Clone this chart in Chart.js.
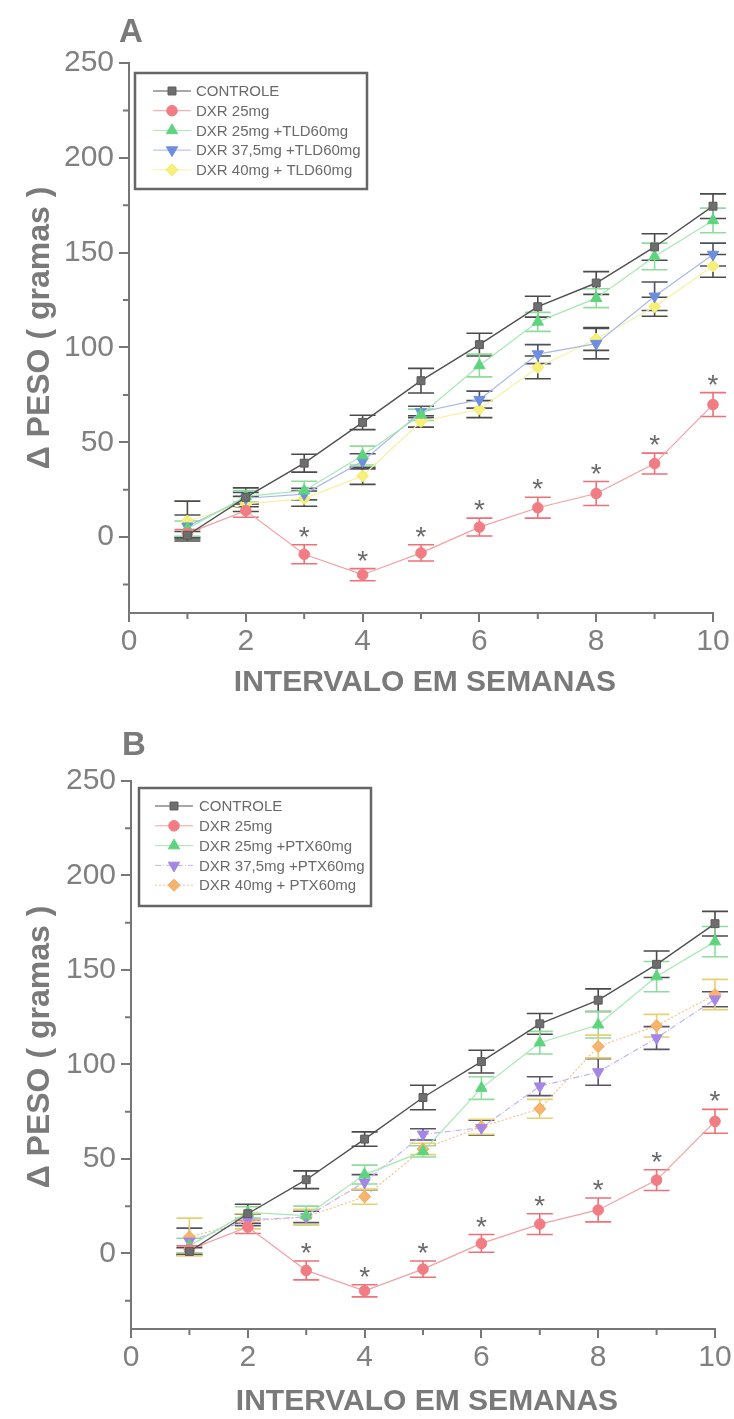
<!DOCTYPE html>
<html><head><meta charset="utf-8">
<script src="https://cdn.jsdelivr.net/npm/chart.js@4.4.1/dist/chart.umd.min.js"></script>
<style>
html,body{margin:0;padding:0;background:#fff;}
#wrap{position:relative;width:734px;height:1419px;overflow:hidden;background:#fff;}
.pane{position:absolute;left:0;width:734px;}
</style></head><body>
<div id="wrap">
<div class="pane" style="top:0;height:710px"><canvas id="cA" width="734" height="710"></canvas></div>
<div class="pane" style="top:710px;height:709px"><canvas id="cB" width="734" height="709"></canvas></div>
</div>
<script>
// ---------- DATA ----------
const weeks = [1, 2, 3, 4, 5, 6, 7, 8, 9, 10];
const xTickValues = [0, 1, 2, 3, 4, 5, 6, 7, 8, 9, 10];
const yTickValues = [-25, 0, 25, 50, 75, 100, 125, 150, 175, 200, 225, 250];

const controle    = [1, 21, 39, 60.5, 82.5, 101.5, 121.5, 134, 153, 174.5];
const controleErr = [2, 5, 4.7, 3.8, 6.5, 6, 5.5, 6, 7, 6.5];
const dxr25       = [2, 14, -9, -19.8, -8.3, 5.3, 15.5, 23, 38.8, 69.9];
const dxr25Err    = [2, 3.5, 5, 3.2, 4.3, 4.7, 5.5, 6.3, 5.5, 6.3];

// Panel A (TLD)
const tld25    = [4.5, 21.5, 24.5, 43, 64.5, 90.5, 113.5, 126, 148, 167];
const tld25Err = [4, 3, 5, 5, 3, 6, 5, 5, 7, 6.5];
const tld37    = [5.7, 20.5, 22.7, 40, 66, 72.5, 96.5, 102, 127, 149];
const tld37Err = [6, 3, 3, 4, 3, 4.5, 5, 8, 7.5, 6];
const tld40    = [8.5, 17.5, 20.3, 32.3, 61, 67.5, 89.5, 104.5, 121.5, 143];
const tld40Err = [10.5, 4, 4, 4.5, 3, 4.5, 6, 6, 5, 6];

// Panel B (PTX)
const ptx25    = [4, 21.7, 20, 41.7, 54, 87.5, 111.5, 121, 146.5, 165];
const ptx25Err = [4, 3, 5, 5, 3, 6, 6, 7, 8, 8];
const ptx37    = [6.4, 17.7, 19.3, 37.7, 63, 66.5, 88.5, 96, 114, 134.5];
const ptx37Err = [7, 3, 3, 4, 3, 4, 5, 7, 6, 4];
const ptx40    = [8.7, 17, 19.3, 30, 55.3, 67, 76.5, 109.5, 120.5, 137];
const ptx40Err = [10, 4, 4, 4, 3, 4, 5, 6, 6, 8];

const signifWeeks = [3, 4, 5, 6, 7, 8, 9, 10];

const labelsA = ['CONTROLE', 'DXR 25mg', 'DXR 25mg +TLD60mg', 'DXR 37,5mg +TLD60mg', 'DXR 40mg + TLD60mg'];
const labelsB = ['CONTROLE', 'DXR 25mg', 'DXR 25mg +PTX60mg', 'DXR 37,5mg +PTX60mg', 'DXR 40mg + PTX60mg'];
const xTitle = 'INTERVALO EM SEMANAS';
const yTitle = '\u0394 PESO ( gramas )';

// ---------- HELPERS ----------
const FONT = "'Liberation Sans', Arial, sans-serif";
const pts = arr => weeks.map((w, i) => ({ x: w, y: arr[i] }));

function series(label, vals, err, o) {
  return Object.assign({
    label, data: pts(vals), err,
    showLine: true, fill: false, tension: 0, clip: false,
    borderWidth: 1.2, pointBorderWidth: 1,
  }, o);
}

const errPlugin = {
  id: 'errbars',
  beforeDatasetsDraw(chart) {
    const { ctx, scales: { x, y } } = chart;
    chart.data.datasets.forEach(ds => {
      if (!ds.err) return;
      ctx.save();
      ctx.strokeStyle = ds.errColor;
      ctx.lineWidth = 1.6;
      ds.data.forEach((p, j) => {
        const e = ds.err[j];
        const px = x.getPixelForValue(p.x);
        const t = y.getPixelForValue(p.y + e), b = y.getPixelForValue(p.y - e);
        ctx.beginPath();
        ctx.moveTo(px, t); ctx.lineTo(px, b);
        ctx.moveTo(px - 13, t); ctx.lineTo(px + 13, t);
        ctx.moveTo(px - 13, b); ctx.lineTo(px + 13, b);
        ctx.stroke();
      });
      ctx.restore();
    });
  },
  afterDatasetsDraw(chart) {
    const { ctx, scales: { x, y } } = chart;
    const ds = chart.data.datasets[1];
    ctx.save();
    ctx.fillStyle = '#6a6a6a';
    ctx.font = '28px ' + FONT;
    ctx.textAlign = 'center';
    ctx.textBaseline = 'alphabetic';
    signifWeeks.forEach(w => {
      const j = weeks.indexOf(w);
      const top = y.getPixelForValue(ds.data[j].y + ds.err[j]);
      ctx.fillText('*', x.getPixelForValue(w), top + 1);
    });
    ctx.restore();
  }
};

const decoPlugin = {
  id: 'deco',
  afterDraw(chart) {
    const o = chart.options.plugins.deco;
    const { ctx, chartArea: ca, scales: { x, y } } = chart;
    ctx.save();
    // minor ticks
    ctx.strokeStyle = '#777'; ctx.lineWidth = 2;
    ctx.beginPath();
    xTickValues.forEach(v => { if (v % 2 !== 0) { const px = x.getPixelForValue(v); ctx.moveTo(px, ca.bottom); ctx.lineTo(px, ca.bottom + 6); } });
    yTickValues.forEach(v => { if (v % 50 !== 0) { const py = y.getPixelForValue(v); ctx.moveTo(ca.left, py); ctx.lineTo(ca.left - 6, py); } });
    ctx.stroke();

    // panel letter
    ctx.fillStyle = '#7a7a7a';
    ctx.font = 'bold 33px ' + FONT;
    ctx.textAlign = 'left'; ctx.textBaseline = 'alphabetic';
    ctx.fillText(o.letter, o.letterX, o.letterY);

    // axis titles
    ctx.font = 'bold 30px ' + FONT;
    ctx.fillStyle = '#7a7a7a';
    ctx.textAlign = 'center'; ctx.textBaseline = 'middle';
    ctx.fillText(xTitle, o.xTitleX, o.xTitleY);
    ctx.save();
    ctx.font = 'bold 32px ' + FONT;
    ctx.translate(o.yTitleX, o.yTitleY);
    ctx.rotate(-Math.PI / 2);
    ctx.fillText(yTitle, 0, 0);
    ctx.restore();

    // legend box
    const L = o.legend;
    ctx.strokeStyle = '#666'; ctx.lineWidth = 2.5;
    ctx.strokeRect(L.x, L.y, L.w, L.h);
    ctx.font = '15px ' + FONT;
    ctx.textAlign = 'left'; ctx.textBaseline = 'middle';
    chart.data.datasets.forEach((ds, i) => {
      const cy = L.y + L.row0 + i * L.rowH;
      ctx.save();
      ctx.strokeStyle = ds.borderColor; ctx.lineWidth = 1;
      ctx.setLineDash(ds.borderDash || []);
      ctx.beginPath(); ctx.moveTo(L.symX - 19, cy); ctx.lineTo(L.symX + 19, cy); ctx.stroke();
      ctx.restore();
      ctx.save();
      ctx.fillStyle = ds.pointBackgroundColor;
      ctx.strokeStyle = ds.pointBorderColor;
      ctx.lineWidth = 1;
      Chart.helpers.drawPoint(ctx, { pointStyle: ds.pointStyle, radius: ds.pointRadius, rotation: ds.pointRotation || 0, borderWidth: 1 }, L.symX, cy);
      ctx.restore();
      ctx.fillStyle = '#6a6a6a';
      ctx.fillText(ds.label, L.textX, cy + 1);
    });
    ctx.restore();
  }
};

function makePanel(id, datasets, g) {
  const gridColor = (c, minorTest) => (c.tick && minorTest(c.tick.value)) ? 'rgba(0,0,0,0)' : '#777';
  return new Chart(document.getElementById(id), {
    type: 'scatter',
    data: { datasets },
    options: {
      responsive: false,
      animation: false,
      layout: { padding: { top: g.top, right: g.padRight, left: 0, bottom: 0 } },
      plugins: {
        legend: { display: false },
        tooltip: { enabled: false },
        deco: g.deco
      },
      scales: {
        x: {
          type: 'linear', min: 0, max: 10,
          afterBuildTicks: s => { s.ticks = xTickValues.map(v => ({ value: v })); },
          afterFit: s => { s.height = g.xh; },
          ticks: {
            autoSkip: false, maxRotation: 0, padding: 2,
            color: '#808080', font: { family: FONT, size: 30 },
            callback: v => (v % 2 === 0 ? String(v) : '')
          },
          grid: { display: true, drawOnChartArea: false, drawTicks: true, tickLength: 9, lineWidth: 2,
                  color: c => gridColor(c, v => v % 2 !== 0) },
          border: { display: true, color: '#777', width: 2 }
        },
        y: {
          type: 'linear', min: -40, max: 250,
          afterBuildTicks: s => { s.ticks = yTickValues.map(v => ({ value: v })); },
          afterFit: s => { s.width = g.left; },
          ticks: {
            autoSkip: false, padding: 5,
            color: '#808080', font: { family: FONT, size: 30 },
            callback: v => (v % 50 === 0 ? String(v) : '')
          },
          grid: { display: true, drawOnChartArea: false, drawTicks: true, tickLength: 10, lineWidth: 2,
                  color: c => gridColor(c, v => v % 50 !== 0) },
          border: { display: true, color: '#777', width: 2 }
        }
      }
    },
    plugins: [errPlugin, decoPlugin]
  });
}

function commonSeries(labels) {
  return [
    series(labels[0], controle, controleErr, {
      borderColor: '#505050', borderWidth: 1.4, pointStyle: 'rect', pointRadius: 5.6,
      pointBackgroundColor: '#6e6e6e', pointBorderColor: '#5a5a5a', errColor: '#4a4a4a'
    }),
    series(labels[1], dxr25, dxr25Err, {
      borderColor: '#f3a0a4', pointStyle: 'circle', pointRadius: 5.3,
      pointBackgroundColor: '#f27c84', pointBorderColor: '#f27c84', errColor: '#f07078'
    })
  ];
}

const dsA = commonSeries(labelsA).concat([
  series(labelsA[2], tld25, tld25Err, {
    borderColor: '#a6e8b2', pointStyle: 'triangle', pointRadius: 6.5,
    pointBackgroundColor: '#5fd47e', pointBorderColor: '#5fd47e', errColor: '#8fdc9c'
  }),
  series(labelsA[3], tld37, tld37Err, {
    borderColor: '#a9b8ec', pointStyle: 'triangle', pointRotation: 180, pointRadius: 6.5,
    pointBackgroundColor: '#6d8de0', pointBorderColor: '#6d8de0', errColor: '#4e5060'
  }),
  series(labelsA[4], tld40, tld40Err, {
    borderColor: '#f6f2a0', pointStyle: 'rectRot', pointRadius: 6,
    pointBackgroundColor: '#f6ef78', pointBorderColor: '#f3ea6a', errColor: '#4c4c44'
  })
]);

const dsB = commonSeries(labelsB).concat([
  series(labelsB[2], ptx25, ptx25Err, {
    borderColor: '#a6e8b2', pointStyle: 'triangle', pointRadius: 6.5,
    pointBackgroundColor: '#5fd47e', pointBorderColor: '#5fd47e', errColor: '#8fdc9c'
  }),
  series(labelsB[3], ptx37, ptx37Err, {
    borderColor: '#c4b2f0', borderDash: [6, 2, 1, 2], pointStyle: 'triangle', pointRotation: 180, pointRadius: 6.5,
    pointBackgroundColor: '#a386e6', pointBorderColor: '#a386e6', errColor: '#5a5468'
  }),
  series(labelsB[4], ptx40, ptx40Err, {
    borderColor: '#f6c28c', borderDash: [2, 2], pointStyle: 'rectRot', pointRadius: 6,
    pointBackgroundColor: '#f8b46c', pointBorderColor: '#f2a85c', errColor: '#e6d070'
  })
]);

makePanel('cA', dsA, {
  top: 63, padRight: 21, left: 129, xh: 97,
  deco: {
    letter: 'A', letterX: 119, letterY: 42,
    xTitleX: 425, xTitleY: 683, yTitleX: 40, yTitleY: 328,
    legend: { x: 135, y: 73, w: 232, h: 116, row0: 18, rowH: 19.7, symX: 172, textX: 196 }
  }
});

makePanel('cB', dsB, {
  top: 71, padRight: 19, left: 131, xh: 90,
  deco: {
    letter: 'B', letterX: 122, letterY: 45,
    xTitleX: 427, xTitleY: 692, yTitleX: 40, yTitleY: 1047 - 710,
    legend: { x: 139, y: 78, w: 232, h: 118, row0: 18, rowH: 19.8, symX: 174, textX: 199 }
  }
});
</script>
</body></html>
